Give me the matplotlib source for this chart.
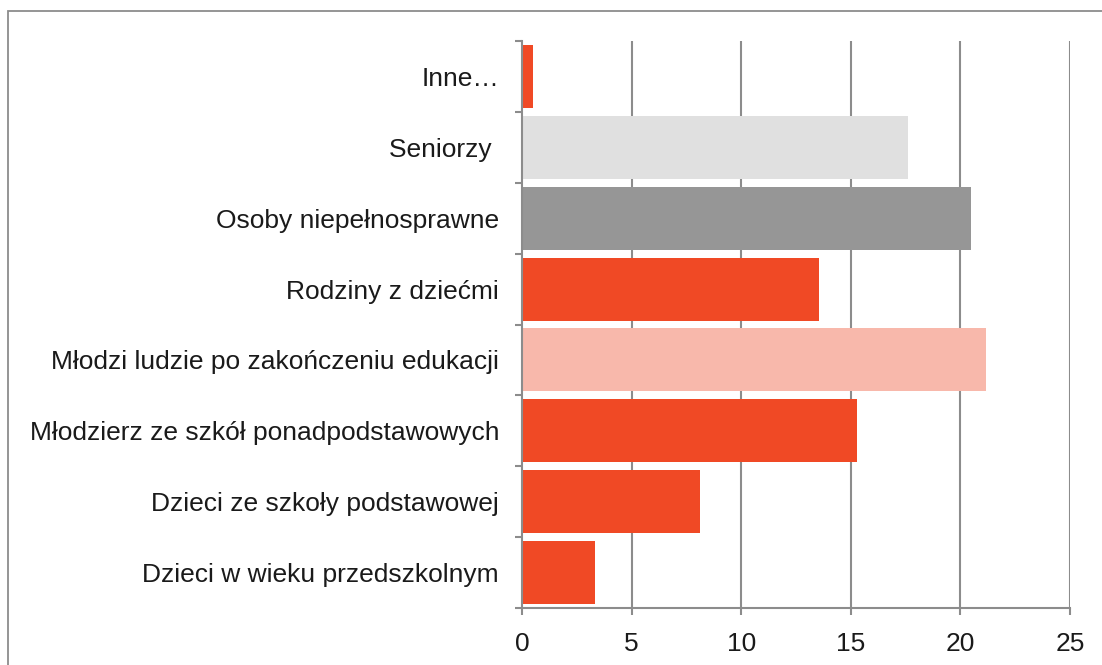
import matplotlib
matplotlib.use("Agg")
import matplotlib.pyplot as plt
from matplotlib.patches import Rectangle
import numpy as np

categories = [
    "Dzieci w wieku przedszkolnym",
    "Dzieci ze szkoły podstawowej",
    "Młodzierz ze szkół ponadpodstawowych",
    "Młodzi ludzie po zakończeniu edukacji",
    "Rodziny z dziećmi",
    "Osoby niepełnosprawne",
    "Seniorzy ",
    "Inne…",
]
values = [3.32, 8.13, 15.3, 21.19, 13.53, 20.5, 17.63, 0.5]
colors = ["#F04925", "#F04925", "#F04925", "#F8B8AB", "#F04925", "#969696", "#E0E0E0", "#F04925"]
xticks = [0, 5, 10, 15, 20, 25]

plt.rcParams['font.family'] = ['Liberation Sans', 'DejaVu Sans']

W, H = 1102, 665
fig = plt.figure(figsize=(W / 100, H / 100), dpi=100)
ax = fig.add_axes([522 / W, 1 - 608 / H, (1070 - 522) / W, (608 - 41) / H])

grid_c = "#8C8C8C"
y = np.arange(len(categories))
ax.barh(y, values, height=0.89, color=colors, zorder=3)

ax.set_xlim(0, 25)
ax.set_ylim(-0.5, len(categories) - 0.5)
ax.set_xticks(xticks)
ax.set_xticklabels([str(t) for t in xticks])
ax.set_yticks(y)
ax.set_yticklabels(categories)
ax.set_yticks(np.arange(-0.5, len(categories), 1.0), minor=True)

for t in xticks[1:]:
    ax.axvline(t, color=grid_c, lw=1.5, zorder=1)

for s in ["top", "right"]:
    ax.spines[s].set_visible(False)
for s in ["left", "bottom"]:
    ax.spines[s].set_color(grid_c)
    ax.spines[s].set_linewidth(1.5)
    ax.spines[s].set_zorder(4)

ax.tick_params(axis="y", which="major", length=0, pad=16.5, labelsize=19, labelcolor="#1a1a1a")
ax.tick_params(axis="y", which="minor", length=5, width=1.5, color=grid_c)
ax.tick_params(axis="x", which="major", length=5, width=1.5, color=grid_c, pad=12, labelsize=19, labelcolor="#1a1a1a")

fig.patches.append(Rectangle((7.5 / W, -0.1), 2.0, 1 - 10.5 / H + 0.1, transform=fig.transFigure,
                             fill=False, edgecolor=grid_c, lw=1.3))

fig.savefig("out.png", dpi=100)
